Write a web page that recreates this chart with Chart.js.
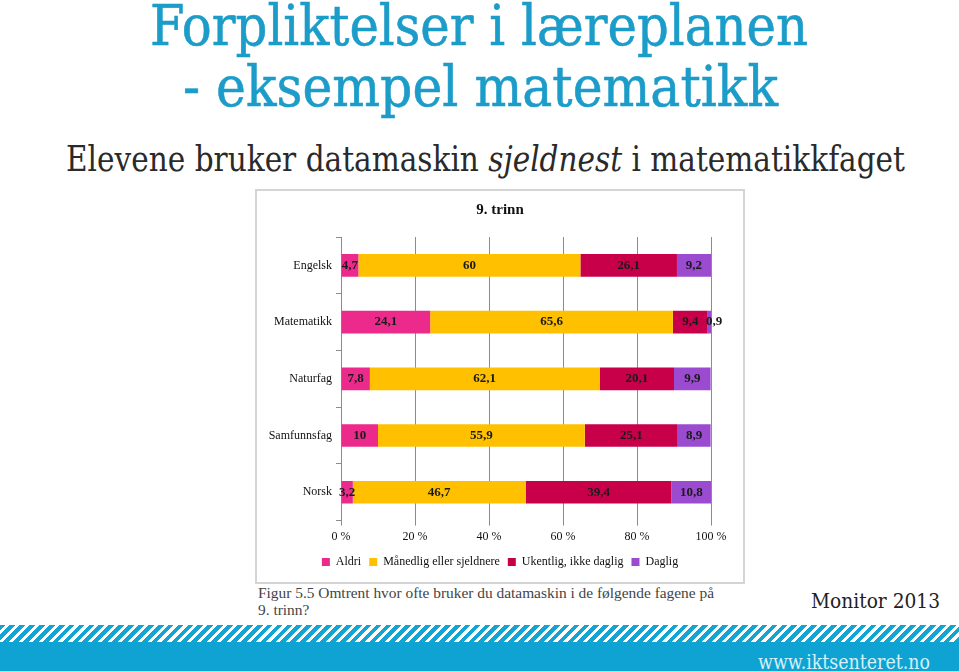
<!DOCTYPE html>
<html lang="no">
<head>
<meta charset="utf-8">
<title>Forpliktelser i læreplanen</title>
<script src="https://cdn.jsdelivr.net/npm/chart.js@4.4.1/dist/chart.umd.min.js"></script>
<style>
  html, body { margin: 0; padding: 0; background: #fff; }
  body { width: 959px; height: 671px; position: relative; overflow: hidden; }
  .slab { font-family: "DejaVu Serif", serif; position: absolute; white-space: nowrap; line-height: 1; transform-origin: left top; }
  .tittel { color: #1b9cc9; font-size: 56px; -webkit-text-stroke: 0.6px #1b9cc9; }
  .under { color: #2a2a2a; font-size: 36px; }
  #boks { position: absolute; left: 255px; top: 189px; width: 486px; height: 391px; border: 2px solid #d4d4d4; background: #fff; }
  .figur { position: absolute; left: 258px; top: 584px; font-family: "Liberation Serif", serif; font-size: 15.4px; line-height: 17px; color: #444; }
  .stripes { position: absolute; left: 0; top: 625px; width: 959px; height: 17px;
    background: repeating-linear-gradient(135deg, #12a4d3 0 4px, #fff 4px 7px); }
  .band { position: absolute; left: 0; top: 642px; width: 959px; height: 29px; background: #0ea3d2; }
</style>
</head>
<body>

<div class="slab tittel" id="t1" data-w="658" style="left:150px; top:-2px;">Forpliktelser i læreplanen</div>
<div class="slab tittel" id="t2" data-w="595" style="left:183px; top:59px;">- eksempel matematikk</div>
<div class="slab under" id="t3" data-w="839" style="left:66px; top:141px;">Elevene bruker datamaskin <i>sjeldnest</i> i matematikkfaget</div>

<div id="boks"><canvas id="grafikk"></canvas></div>

<div class="figur">Figur 5.5 Omtrent hvor ofte bruker du datamaskin i de følgende fagene på<br>9. trinn?</div>
<div class="slab" id="t4" data-w="129" style="left:811px; top:591px; font-size:20px; color:#222;">Monitor 2013</div>

<div class="stripes"></div>
<div class="band"></div>
<div class="slab" id="t5" data-w="172" style="left:758px; top:652px; font-size:20px; color:#d6f0f9;">www.iktsenteret.no</div>

<script>
// data lest av figuren (prosent, 9. trinn)
const fag = ['Engelsk', 'Matematikk', 'Naturfag', 'Samfunnsfag', 'Norsk'];
const kategorier = ['Aldri', 'Månedlig eller sjeldnere', 'Ukentlig, ikke daglig', 'Daglig'];
const aldri = [4.7, 24.1, 7.8, 10, 3.2];
const maanedlig = [60, 65.6, 62.1, 55.9, 46.7];
const ukentlig = [26.1, 9.4, 20.1, 25.1, 39.4];
const daglig = [9.2, 0.9, 9.9, 8.9, 10.8];
const xTicks = [0, 20, 40, 60, 80, 100];

const farger = ['#ec2a8c', '#ffc000', '#c8004a', '#9a4bd0'];
const serier = [aldri, maanedlig, ukentlig, daglig];

// strekk overskriftene til samme bredde som i originalen
document.querySelectorAll('.slab').forEach(el => {
    const w = el.getBoundingClientRect().width;
    const mal = parseFloat(el.dataset.w);
    el.style.transform = 'scaleX(' + (mal / w) + ')';
});

const etiketter = {
    id: 'etiketter',
    afterDatasetsDraw(chart) {
        const ctx = chart.ctx;
        ctx.save();
        ctx.font = 'bold 13px "Liberation Serif"';
        ctx.fillStyle = '#1a1a1a';
        ctx.textBaseline = 'middle';
        chart.data.datasets.forEach((ds, i) => {
            chart.getDatasetMeta(i).data.forEach((bar, j) => {
                const v = ds.data[j];
                const tekst = String(v).replace('.', ',');
                if (v < 2) {
                    ctx.textAlign = 'left';
                    ctx.fillText(tekst, bar.x - 5, bar.y);
                } else {
                    ctx.textAlign = 'center';
                    ctx.fillText(tekst, (bar.x + bar.base) / 2, bar.y);
                }
            });
        });
        ctx.restore();
    }
};

new Chart(document.getElementById('grafikk'), {
    type: 'bar',
    data: {
        labels: fag,
        datasets: kategorier.map((navn, i) => ({
            label: navn,
            data: serier[i],
            backgroundColor: farger[i],
            borderWidth: 0,
            barPercentage: 0.4,
            categoryPercentage: 1
        }))
    },
    options: {
        indexAxis: 'y',
        responsive: true,
        maintainAspectRatio: false,
        animation: false,
        layout: { padding: { left: 0, right: 0, top: 0, bottom: 4 } },
        plugins: {
            title: {
                display: true,
                text: '9. trinn',
                color: '#111',
                font: { family: '"Liberation Serif"', size: 15, weight: 'bold' },
                padding: { top: 10, bottom: 18 }
            },
            legend: {
                position: 'bottom',
                labels: {
                    color: '#111',
                    font: { family: '"Liberation Serif"', size: 12 },
                    boxWidth: 8,
                    boxHeight: 8,
                    padding: 8
                }
            },
            tooltip: { enabled: false }
        },
        scales: {
            x: {
                stacked: true,
                min: 0,
                max: 100,
                afterBuildTicks: s => { s.ticks = xTicks.map(v => ({ value: v })); },
                afterFit: s => { s.paddingRight = 32; },
                ticks: {
                    color: '#111',
                    font: { family: '"Liberation Serif"', size: 12 },
                    padding: 4,
                    maxRotation: 0,
                    callback: v => v + ' %'
                },
                grid: { color: '#8c8c8c', tickLength: 5 },
                border: { display: false }
            },
            y: {
                stacked: true,
                afterFit: s => { s.width = 84; },
                ticks: {
                    color: '#111',
                    font: { family: '"Liberation Serif"', size: 12 },
                    padding: 4
                },
                grid: { drawOnChartArea: false, offset: true, color: '#8c8c8c', tickLength: 5 },
                border: { display: true, color: '#8c8c8c' }
            }
        }
    },
    plugins: [etiketter]
});
</script>
</body>
</html>
